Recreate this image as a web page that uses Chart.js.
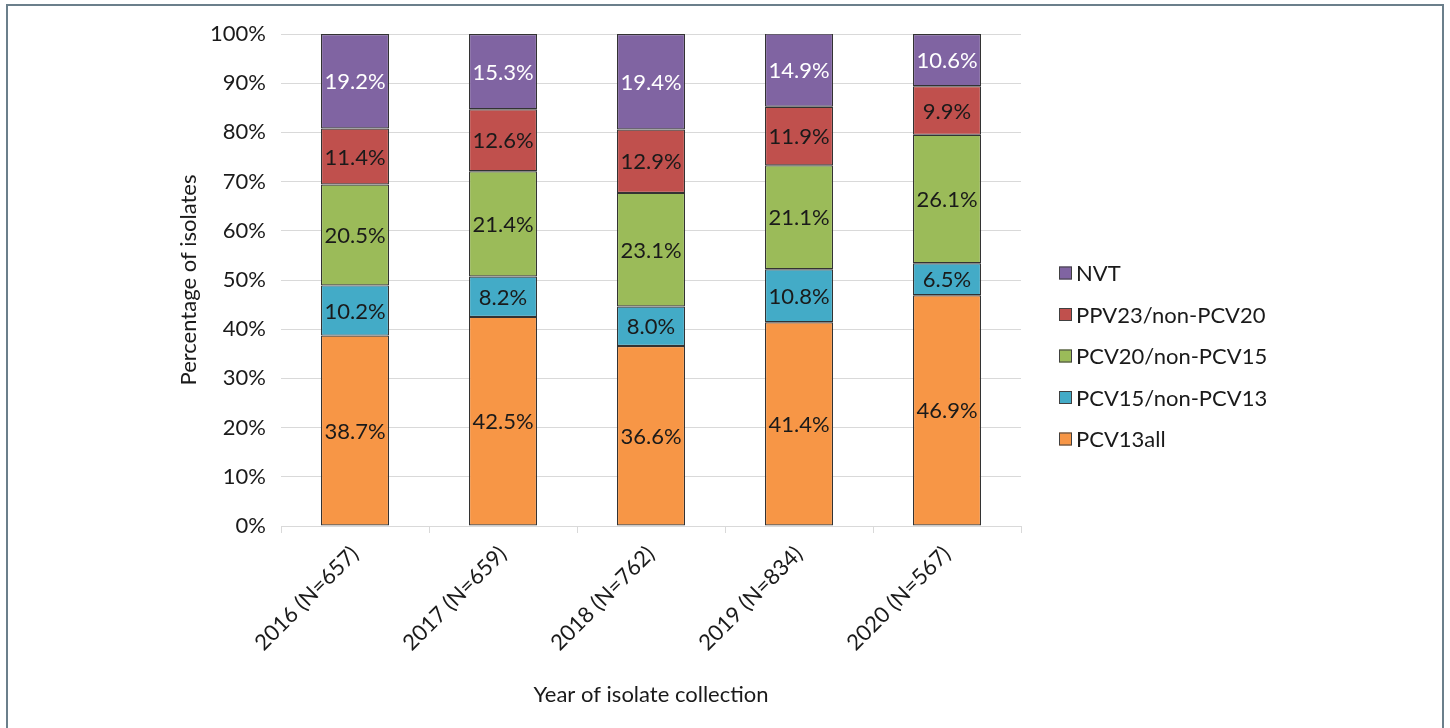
<!DOCTYPE html>
<html>
<head>
<meta charset="utf-8">
<title>Serotype groups by year</title>
<script src="https://cdn.jsdelivr.net/npm/chart.js@4"></script>
<style>
    body { margin: 0; background: #fff; }
    #frame {
        position: absolute;
        left: 6px; top: 4px;
        width: 1438px; height: 760px;
        border: 2px solid #6b7f8b;
        box-sizing: border-box;
    }
    #chart { position: absolute; left: 0; top: 0; }
</style>
</head>
<body>
<div id="frame"></div>
<canvas id="chart" width="1450" height="728"></canvas>
<script>
const years = ['2016 (N=657)', '2017 (N=659)', '2018 (N=762)', '2019 (N=834)', '2020 (N=567)'];

const pcv13all = [38.7, 42.5, 36.6, 41.4, 46.9];
const pcv15 = [10.2, 8.2, 8.0, 10.8, 6.5];
const pcv20 = [20.5, 21.4, 23.1, 21.1, 26.1];
const ppv23 = [11.4, 12.6, 12.9, 11.9, 9.9];
const nvt = [19.2, 15.3, 19.4, 14.9, 10.6];

const yTicks = [0, 10, 20, 30, 40, 50, 60, 70, 80, 90, 100];

const FONT = 'Lato, "Open Sans", sans-serif';
const SIZE = 22;
const TEXT = '#1a1a1a';

// Value labels centred inside every stacked segment
const segmentLabels = {
    id: 'segmentLabels',
    afterDatasetsDraw(chart) {
        const ctx = chart.ctx;
        ctx.save();
        ctx.font = SIZE + 'px ' + FONT;
        ctx.textAlign = 'center';
        ctx.textBaseline = 'middle';
        chart.data.datasets.forEach((ds, i) => {
            const meta = chart.getDatasetMeta(i);
            meta.data.forEach((bar, j) => {
                const p = bar.getProps(['x', 'y', 'base'], true);
                ctx.fillStyle = ds.labelColor;
                ctx.fillText(ds.data[j].toFixed(1) + '%', p.x, (p.y + p.base) / 2 + 1);
            });
        });
        ctx.restore();
    }
};

// Legend on the right, top series first
const sideLegend = {
    id: 'sideLegend',
    afterDraw(chart) {
        const ctx = chart.ctx;
        const x = 1059, y0 = 273, step = 41.5, box = 13;
        ctx.save();
        ctx.font = SIZE + 'px ' + FONT;
        ctx.textBaseline = 'middle';
        ctx.textAlign = 'left';
        const sets = chart.data.datasets.slice().reverse();
        sets.forEach((ds, k) => {
            const cy = y0 + k * step;
            ctx.fillStyle = ds.backgroundColor;
            ctx.fillRect(x, cy - box / 2, box, box);
            ctx.strokeStyle = '#404040';
            ctx.lineWidth = 1;
            ctx.strokeRect(x + 0.5, cy - box / 2 + 0.5, box - 1, box - 1);
            ctx.fillStyle = TEXT;
            ctx.fillText(ds.label, x + 17, cy + 1);
        });
        ctx.restore();
    }
};

function series(label, data, color, labelColor) {
    return {
        label: label,
        data: data,
        backgroundColor: color,
        borderColor: '#333333',
        borderWidth: 1.2,
        borderSkipped: false,
        labelColor: labelColor,
        categoryPercentage: 1,
        barPercentage: 0.46
    };
}

new Chart(document.getElementById('chart'), {
    type: 'bar',
    data: {
        labels: years,
        datasets: [
            series('PCV13all', pcv13all, '#f79646', TEXT),
            series('PCV15/non-PCV13', pcv15, '#43abc7', TEXT),
            series('PCV20/non-PCV15', pcv20, '#9bbb59', TEXT),
            series('PPV23/non-PCV20', ppv23, '#c0504d', TEXT),
            series('NVT', nvt, '#8064a2', '#ffffff')
        ]
    },
    options: {
        responsive: false,
        animation: false,
        layout: { padding: { left: 176, right: 429, top: 34, bottom: 20 } },
        plugins: {
            legend: { display: false },
            tooltip: { enabled: false }
        },
        scales: {
            x: {
                stacked: true,
                afterFit(scale) { scale.height = 728 - 526 - 20; },
                grid: {
                    drawOnChartArea: false,
                    drawTicks: true,
                    tickLength: 7,
                    color: '#d9d9d9',
                    offset: true
                },
                border: { color: '#d9d9d9' },
                ticks: {
                    color: TEXT,
                    font: { family: FONT, size: SIZE },
                    minRotation: 45,
                    maxRotation: 45,
                    padding: 8
                },
                title: {
                    display: true,
                    text: 'Year of isolate collection',
                    color: TEXT,
                    font: { family: FONT, size: SIZE },
                    padding: { top: 0, bottom: 0 }
                }
            },
            y: {
                stacked: true,
                min: 0,
                max: 100,
                afterFit(scale) { scale.width = 281 - 176; },
                afterBuildTicks(scale) { scale.ticks = yTicks.map(v => ({ value: v })); },
                grid: { color: '#d9d9d9', drawTicks: false },
                border: { display: false },
                ticks: {
                    color: TEXT,
                    font: { family: FONT, size: SIZE },
                    padding: 15,
                    callback: v => v + '%'
                },
                title: {
                    display: true,
                    text: 'Percentage of isolates',
                    color: TEXT,
                    font: { family: FONT, size: SIZE },
                    padding: { top: 0, bottom: 0 }
                }
            }
        }
    },
    plugins: [segmentLabels, sideLegend]
});
</script>
</body>
</html>
